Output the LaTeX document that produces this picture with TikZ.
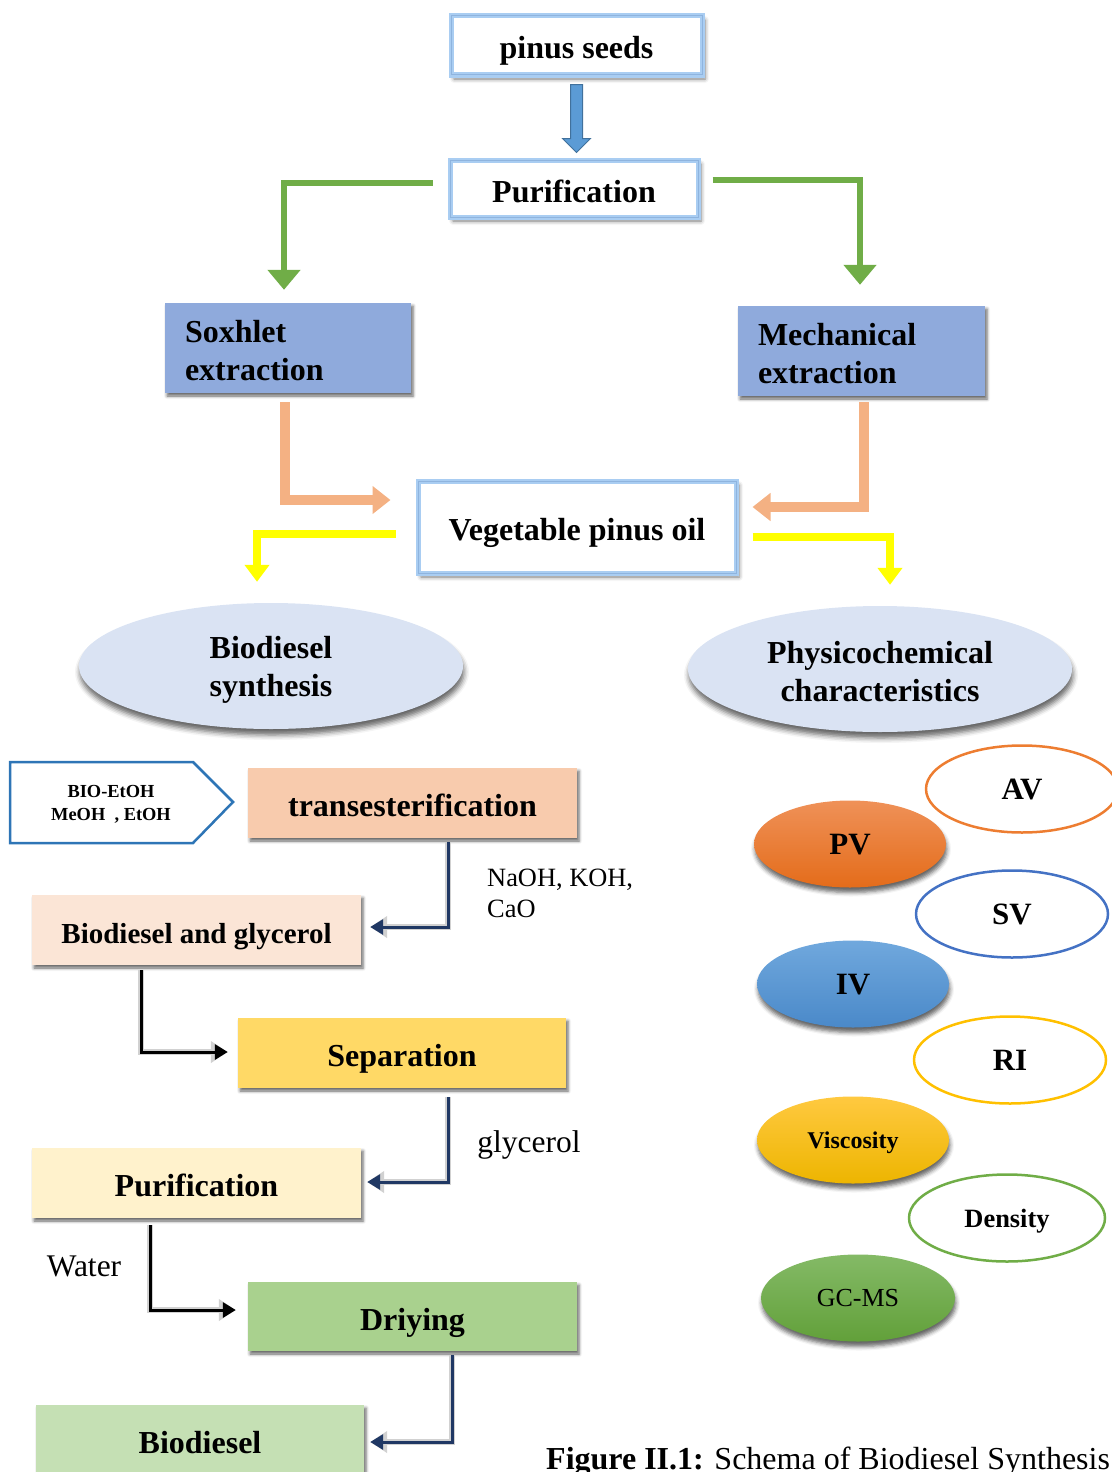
\documentclass[tikz,border=0pt]{standalone}
\usepackage{fontspec}
\setmainfont{Liberation Serif}
\usetikzlibrary{arrows.meta,calc,shadows,shadows.blur,shapes.geometric}

\definecolor{glowblue}{HTML}{A9CDF2}
\definecolor{glowline}{HTML}{8FB4DE}
\definecolor{soxfill}{HTML}{8FAADC}
\definecolor{arrgreen}{HTML}{70AD47}
\definecolor{arrorange}{HTML}{F4B183}
\definecolor{arryellow}{HTML}{FFFF00}
\definecolor{blockfill}{HTML}{5B9BD5}
\definecolor{blockedge}{HTML}{41719C}
\definecolor{ellfill}{HTML}{DAE3F3}
\definecolor{navy}{HTML}{203864}
\definecolor{pentedge}{HTML}{2E75B6}
\definecolor{transfill}{HTML}{F8CBAD}
\definecolor{bgfill}{HTML}{FBE5D6}
\definecolor{sepfill}{HTML}{FFD966}
\definecolor{purfill}{HTML}{FFF2CC}
\definecolor{dryfill}{HTML}{A9D18E}
\definecolor{biofill}{HTML}{C5E0B4}
\definecolor{avedge}{HTML}{ED7D31}
\definecolor{svedge}{HTML}{4472C4}
\definecolor{riedge}{HTML}{FFC000}
\definecolor{denedge}{HTML}{70AD47}
\definecolor{pvtop}{HTML}{EF9158}
\definecolor{pvbot}{HTML}{E46C1A}
\definecolor{ivtop}{HTML}{70A8DD}
\definecolor{ivbot}{HTML}{4A89C9}
\definecolor{vitop}{HTML}{FFC940}
\definecolor{vibot}{HTML}{EDB500}
\definecolor{gctop}{HTML}{84BA66}
\definecolor{gcbot}{HTML}{62A03A}

\tikzset{
  lbl/.style={font=\fontsize{32}{38}\selectfont\bfseries},
  oneline/.style={text height=27pt, text depth=0pt},
  glowbox/.style={rectangle, fill=white, draw=glowblue, line width=5pt,
    blur shadow={shadow xshift=3pt, shadow yshift=-4pt, shadow blur radius=4pt, shadow opacity=55},
    postaction={draw=glowline, line width=1pt}, inner sep=0pt, lbl, oneline},
  colbox/.style={rectangle, fill=#1, draw=none,
    blur shadow={shadow xshift=2pt, shadow yshift=-3pt, shadow blur radius=3pt, shadow opacity=60},
    inner sep=0pt, lbl, oneline},
  bigell/.style={ellipse, fill=ellfill, draw=none, minimum width=384pt, minimum height=126pt,
    inner sep=0pt,
    blur shadow={shadow xshift=1pt, shadow yshift=-6pt, shadow blur radius=5pt, shadow opacity=60}},
  twoline/.style={lbl, align=#1, inner sep=0pt},
  outell/.style={ellipse, draw=#1, line width=2.5pt, fill=white,
    minimum width=192pt, minimum height=87pt, inner sep=0pt, text depth=0pt},
  filell/.style 2 args={ellipse, top color=#1, bottom color=#2, draw=none,
    minimum width=192pt, minimum height=87pt, inner sep=0pt, text depth=0pt,
    blur shadow={shadow xshift=1pt, shadow yshift=-5pt, shadow blur radius=4pt, shadow opacity=60}},
  greenarrow/.style={draw=arrgreen, line width=6pt, -{Triangle[width=32pt,length=20pt]}},
  orangearrow/.style={draw=arrorange, line width=10pt, -{Triangle[width=27pt,length=18pt]}},
  yellowarrow/.style={draw=arryellow, line width=8pt, -{Triangle[width=24pt,length=17pt]}},
  flowline/.style={draw=#1, line width=3pt, -{Triangle[width=15pt,length=13pt]},
    preaction={draw=black!18, line width=6pt, -{Triangle[width=21pt,length=17pt]}}},
  blockarrow/.style={fill=blockfill, draw=blockedge, line width=1pt},
  note/.style={inner sep=0pt, align=left},
}

\begin{document}
\begin{tikzpicture}[x=1pt, y=-1pt]
\useasboundingbox (0,0) rectangle (1111,1472);

% ---------- top of the chart ----------
\node[glowbox, minimum width=251pt, minimum height=59pt] (seeds) at (576.5,45.5) {pinus seeds};
\node[glowbox, minimum width=248pt, minimum height=57pt] (purif1) at (574,188.5) {Purification};

\draw[blockarrow] ($(seeds.south)+(-6,7)$) -- ($(seeds.south)+(-6,61)$)
  -- ($(seeds.south)+(-14,61)$) -- ($(seeds.south)+(0,75)$)
  -- ($(seeds.south)+(14,61)$) -- ($(seeds.south)+(6,61)$)
  -- ($(seeds.south)+(6,7)$) -- cycle;

\node[colbox=soxfill, minimum width=246pt, minimum height=90pt] (soxhlet) at (288,348) {};
\node[twoline=left, anchor=west] (soxhletText) at ($(soxhlet.west)+(20,3)$) {Soxhlet\\extraction};
\node[colbox=soxfill, minimum width=247pt, minimum height=90pt] (mech) at (861.5,351) {};
\node[twoline=left, anchor=west] (mechText) at ($(mech.west)+(20,3)$) {Mechanical\\extraction};

\draw[greenarrow] ($(purif1.west)+(-15,-5.5)$) -| ($(soxhlet.north)+(-4,-13)$);
\draw[greenarrow] ($(purif1.east)+(12,-8.5)$) -| ($(mech.north)+(-1.5,-21)$);

\node[glowbox, minimum width=318pt, minimum height=92pt] (veg) at (577,527) {Vegetable pinus oil};

\draw[orangearrow] ($(soxhlet.south)+(-3,9)$) |- ($(veg.west)+(-25,-27)$);
\draw[orangearrow] ($(mech.south)+(2.5,6)$) |- ($(veg.east)+(14,-20)$);

\node[bigell] (biosyn) at (271,666) {};
\node[twoline=center] (biosynText) at ($(biosyn.center)+(0,4)$) {Biodiesel\\synthesis};
\node[bigell] (physchem) at (880,669) {};
\node[twoline=center] (physchemText) at ($(physchem.center)+(0,3)$) {Physicochemical\\characteristics};

\draw[yellowarrow] ($(veg.west)+(-20,7)$) -| ($(biosyn.north)+(-14,-21)$);
\draw[yellowarrow] ($(veg.east)+(14,10)$) -| ($(physchem.north)+(10,-21)$);

% ---------- synthesis steps ----------
\draw[draw=pentedge, line width=2.5pt, line join=miter]
  (10,762) -- (193,762) -- (233,802) -- (193,843) -- (10,843) -- cycle;
\node[font=\fontsize{18.4}{23}\selectfont\bfseries, align=center, inner sep=0pt] (alcohols)
  at (111,804) {BIO-EtOH\\MeOH\ \ , EtOH};

\node[colbox=transfill, minimum width=329pt, minimum height=70pt] (trans) at (412.5,803) {transesterification};
\node[colbox=bgfill, minimum width=329pt, minimum height=70pt,
  font=\fontsize{29}{34}\selectfont\bfseries] (bg) at (196.5,930) {Biodiesel and glycerol};
\node[colbox=sepfill, minimum width=328pt, minimum height=70pt] (sep) at (402,1053) {Separation};
\node[colbox=purfill, minimum width=329pt, minimum height=70pt] (pur2) at (196.5,1183) {Purification};
\node[colbox=dryfill, minimum width=329pt, minimum height=69pt] (dry) at (412.5,1316.5) {Driying};
\node[colbox=biofill, minimum width=328pt, minimum height=70pt] (biod) at (200,1440) {Biodiesel};

\draw[flowline=navy] ($(trans.south)+(35.5,4)$) |- ($(bg.east)+(9,-3)$);
\draw[flowline=black] ($(bg.south)+(-55.5,5)$) |- ($(sep.west)+(-10,-1)$);
\draw[flowline=navy] ($(sep.south)+(46,9)$) |- ($(pur2.east)+(6,-1)$);
\draw[flowline=black] ($(pur2.south)+(-46.5,7)$) |- ($(dry.west)+(-12,-6.5)$);
\draw[flowline=navy] ($(dry.south)+(39.5,4)$) |- ($(biod.east)+(6,2)$);

\node[note, anchor=west, font=\fontsize{26.4}{31}\selectfont] (catalyst) at (487,893) {NaOH, KOH,\\CaO};
\node[note, text depth=0pt, font=\fontsize{31.5}{36}\selectfont] (glyc) at (529,1142) {glycerol};
\node[note, font=\fontsize{31.5}{36}\selectfont] (water) at (84,1266) {Water};

% ---------- physicochemical properties ----------
\node[outell=avedge, font=\fontsize{31}{36}\selectfont\bfseries] (av) at (1022,789) {AV};
\node[filell={pvtop}{pvbot}, font=\fontsize{31}{36}\selectfont\bfseries] (pv) at (850,844) {PV};
\node[outell=svedge, font=\fontsize{31}{36}\selectfont\bfseries] (sv) at (1012,914) {SV};
\node[filell={ivtop}{ivbot}, font=\fontsize{31}{36}\selectfont\bfseries] (iv) at (853,984) {IV};
\node[outell=riedge, font=\fontsize{31}{36}\selectfont\bfseries] (ri) at (1010,1060) {RI};
\node[filell={vitop}{vibot}, font=\fontsize{24}{28}\selectfont\bfseries] (visc) at (853,1140) {Viscosity};
\node[outell=denedge, minimum width=196pt, font=\fontsize{26.4}{30}\selectfont\bfseries] (dens) at (1007,1218) {Density};
\node[filell={gctop}{gcbot}, minimum width=194pt, font=\fontsize{26}{30}\selectfont] (gcms) at (858,1298) {GC-MS};

% ---------- caption ----------
\node[anchor=base west, inner sep=0pt, font=\fontsize{32}{38}\selectfont] (caption) at (546,1469)
  {\textbf{Figure II.1:} Schema of Biodiesel Synthesis};
\end{tikzpicture}
\end{document}
